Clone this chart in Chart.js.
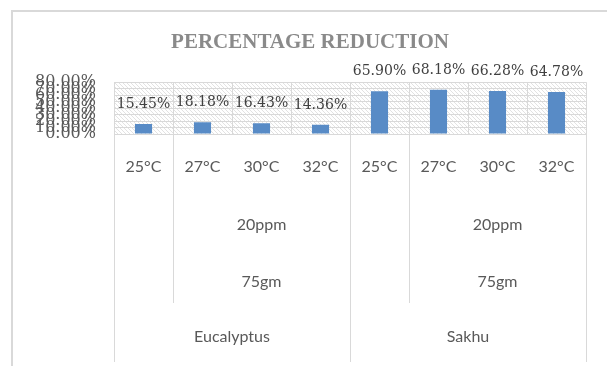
<!DOCTYPE html>
<html>
<head>
<meta charset="utf-8">
<script src="https://cdn.jsdelivr.net/npm/chart.js@4/dist/chart.umd.min.js"></script>
<style>
  html, body { margin: 0; padding: 0; background: #fff; }
  #wrap { width: 607px; height: 366px; }
</style>
</head>
<body>
<div id="wrap"><canvas id="chart" width="607" height="366"></canvas></div>
<script>
const temps = ['25°C', '27°C', '30°C', '32°C', '25°C', '27°C', '30°C', '32°C'];
const reduction = [15.45, 18.18, 16.43, 14.36, 65.90, 68.18, 66.28, 64.78];
const yTicks = [0, 10, 20, 30, 40, 50, 60, 70, 80];

// category index ranges for the outer label rows
const doseGroups = [{ label: '20ppm', from: 1, to: 3 }, { label: '20ppm', from: 5, to: 7 }];
const massGroups = [{ label: '75gm', from: 1, to: 3 }, { label: '75gm', from: 5, to: 7 }];
const speciesGroups = [{ label: 'Eucalyptus', from: 0, to: 3 }, { label: 'Sakhu', from: 4, to: 7 }];

const GRID = '#d9d9d9';
const LABEL = '#595959';
const BAR = '#588bc6';

function hatch() {
  const c = document.createElement('canvas');
  c.width = 4; c.height = 4;
  const g = c.getContext('2d');
  g.strokeStyle = '#e2e2e2';
  g.lineWidth = 1;
  g.beginPath();
  g.moveTo(-1, -1); g.lineTo(5, 5);
  g.stroke();
  return g.createPattern(c, 'repeat');
}

// edge pixel of category i (left side)
function edge(scale, i) {
  const w = (scale.right - scale.left) / temps.length;
  return scale.left + w * i;
}

const framePlugin = {
  id: 'frame',
  beforeDraw(chart) {
    const { ctx, chartArea: a } = chart;
    ctx.save();
    ctx.fillStyle = '#fff';
    ctx.fillRect(0, 0, chart.width, chart.height);
    ctx.strokeStyle = GRID;
    ctx.lineWidth = 2;
    ctx.strokeRect(12, 11, 640, 400);
    ctx.fillStyle = hatch();
    ctx.fillRect(a.left, a.top, a.right - a.left, a.bottom - a.top);
    ctx.restore();
  },
  afterDraw(chart) {
    const { ctx, chartArea: a } = chart;
    const x = chart.scales.x;
    ctx.save();
    ctx.strokeStyle = GRID;
    ctx.lineWidth = 1;
    const lines = [[0, 362], [1, 303], [4, 362], [5, 303], [8, 362]];
    lines.forEach(([i, bottom]) => {
      const px = Math.round(edge(x, i)) + 0.5;
      ctx.beginPath();
      ctx.moveTo(px, a.bottom);
      ctx.lineTo(px, bottom);
      ctx.stroke();
    });
    ctx.fillStyle = LABEL;
    ctx.font = '16px Lato, sans-serif';
    ctx.textAlign = 'center';
    ctx.textBaseline = 'middle';
    const row = (groups, y) => groups.forEach(g => {
      const cx = (edge(x, g.from) + edge(x, g.to + 1)) / 2;
      ctx.fillText(g.label, cx, y);
    });
    row(doseGroups, 225);
    row(massGroups, 282);
    row(speciesGroups, 337);
    ctx.restore();
  },
  afterDatasetsDraw(chart) {
    const { ctx } = chart;
    const meta = chart.getDatasetMeta(0);
    ctx.save();
    ctx.fillStyle = '#404040';
    ctx.font = '14px "DejaVu Serif", serif';
    ctx.textAlign = 'center';
    ctx.textBaseline = 'alphabetic';
    meta.data.forEach((bar, i) => {
      ctx.fillText(reduction[i].toFixed(2) + '%', bar.x, bar.y - 16);
    });
    ctx.restore();
  }
};

new Chart(document.getElementById('chart'), {
  type: 'bar',
  data: {
    labels: temps,
    datasets: [{
      label: 'Percentage reduction',
      data: reduction,
      backgroundColor: BAR,
      barPercentage: 0.29,
      categoryPercentage: 1,
    }]
  },
  options: {
    responsive: false,
    animation: false,
    layout: { padding: { left: 34, right: 21, top: 0, bottom: 0 } },
    plugins: {
      legend: { display: false },
      tooltip: { enabled: false },
      title: {
        display: true,
        text: 'PERCENTAGE REDUCTION',
        color: '#8a8a8a',
        font: { family: '"Liberation Serif", serif', size: 21, weight: 'bold', lineHeight: 1.2 },
        padding: { top: 30, bottom: 27 },
      }
    },
    scales: {
      x: {
        type: 'category',
        grid: { offset: true, color: GRID, drawTicks: false },
        border: { display: false },
        ticks: {
          color: LABEL,
          font: { family: 'Lato, sans-serif', size: 16 },
          padding: 23,
          maxRotation: 0,
          autoSkip: false,
        },
        afterFit(scale) { scale.height = 232; }
      },
      y: {
        min: 0,
        max: 80,
        afterBuildTicks(scale) { scale.ticks = yTicks.map(v => ({ value: v })); },
        grid: { color: GRID, drawTicks: false },
        border: { display: false },
        ticks: {
          autoSkip: false,
          color: LABEL,
          padding: 18,
          font: { family: '"DejaVu Serif", serif', size: 16 },
          callback: v => v.toFixed(2) + '%'
        },
        afterFit(scale) { scale.width = 80; }
      }
    }
  },
  plugins: [framePlugin]
});
</script>
</body>
</html>
